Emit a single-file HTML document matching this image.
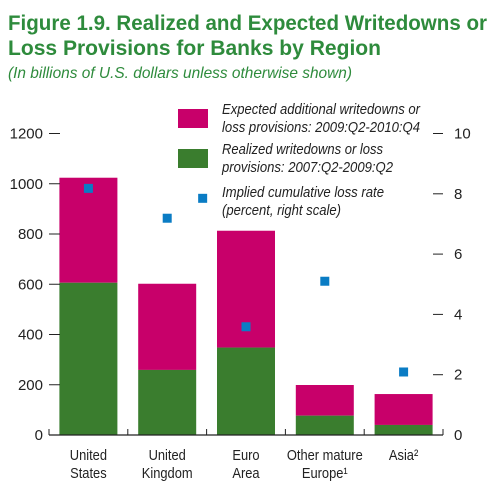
<!DOCTYPE html>
<html><head><meta charset="utf-8"><style>
body{margin:0;background:#fff}
svg text{font-family:"Liberation Sans",sans-serif}
</style></head><body>
<svg width="500" height="495" viewBox="0 0 500 495" xmlns="http://www.w3.org/2000/svg">
<text x="8" y="30" font-size="21" font-weight="bold" fill="#2e8b3c" textLength="479" lengthAdjust="spacingAndGlyphs">Figure 1.9. Realized and Expected Writedowns or</text>
<text x="8" y="55" font-size="21" font-weight="bold" fill="#2e8b3c" textLength="373" lengthAdjust="spacingAndGlyphs">Loss Provisions for Banks by Region</text>
<text x="8" y="78" font-size="16" font-style="italic" fill="#2e8b3c" textLength="344" lengthAdjust="spacingAndGlyphs">(In billions of U.S. dollars unless otherwise shown)</text>
<g id="plot"></g>
<g font-size="15" font-style="italic" fill="#222">
<rect x="178" y="109" width="30" height="19" fill="#c8006a"/>
<text x="222" y="114" textLength="198" lengthAdjust="spacingAndGlyphs">Expected additional writedowns or</text>
<text x="222" y="132" textLength="198" lengthAdjust="spacingAndGlyphs">loss provisions: 2009:Q2-2010:Q4</text>
<rect x="178" y="149" width="30" height="19" fill="#3a7d2e"/>
<text x="222" y="154" textLength="161" lengthAdjust="spacingAndGlyphs">Realized writedowns or loss</text>
<text x="222" y="172" textLength="171" lengthAdjust="spacingAndGlyphs">provisions: 2007:Q2-2009:Q2</text>
<text x="222" y="197" textLength="162" lengthAdjust="spacingAndGlyphs">Implied cumulative loss rate</text>
<text x="222" y="215" textLength="119" lengthAdjust="spacingAndGlyphs">(percent, right scale)</text>
</g>
</svg>
<script>
const categories=["United|States","United|Kingdom","Euro|Area","Other mature|Europe¹","Asia²"];
const realized=[606,259,348,77,40];
const totals=[1024,602,813,199,163];
const rateCat=[0,1,1.45,2,3,4];
const rateVals=[8.18,7.19,7.85,3.59,5.1,2.09];
const leftTicks=[0,200,400,600,800,1000,1200];
const rightTicks=[0,2,4,6,8,10];
const NS="http://www.w3.org/2000/svg";
const g=document.getElementById('plot');
const x0=49,x1=443,yb=435,yt=133.5,band=(x1-x0)/categories.length,bw=58;
const yL=v=>yb-(v/1200)*(yb-yt);
const yR=v=>yb-(v/10)*(yb-yt);
const xc=i=>x0+band*(i+0.5);
function mk(t,a){const e=document.createElementNS(NS,t);for(const k in a)e.setAttribute(k,a[k]);g.appendChild(e);return e;}
categories.forEach((c,i)=>{
 let r=mk('rect',{x:xc(i)-bw/2,y:yL(totals[i]),width:bw,height:yL(realized[i])-yL(totals[i]),fill:'#c8006a'});
 
 
 let s=mk('rect',{x:xc(i)-bw/2,y:yL(realized[i]),width:bw,height:yb-yL(realized[i]),fill:'#3a7d2e'});
 
 
 c.split('|').forEach((ln,j)=>{
  let t=mk('text',{x:xc(i),y:460+j*18,'font-size':15,'text-anchor':'middle',fill:'#222',transform:'translate('+xc(i)+',0) scale(0.86,1) translate('+(-xc(i))+',0)'});
  t.textContent=ln;
  
  
 });
 let tk=mk('line',{x1:x0+band*(i+1),x2:x0+band*(i+1),y1:yb,y2:yb-6,stroke:'#222','stroke-width':1});
 
 
});
rateVals.forEach((v,i)=>{
 let p=mk('rect',{x:xc(rateCat[i])-4.5,y:yR(v)-4.5,width:9,height:9,fill:'#0a7cc4'});
 
 
});
let ax=mk('line',{x1:x0,x2:x1,y1:yb,y2:yb,stroke:'#222','stroke-width':1.2});


[[x0,yb,x0,yb-6],[x1,yb,x1,yb-6]].forEach(a=>{let l=mk('line',{x1:a[0],y1:a[1],x2:a[2],y2:a[3],stroke:'#222'});});
leftTicks.forEach(v=>{
 let l=mk('line',{x1:x0,x2:x0+11,y1:yL(v),y2:yL(v),stroke:'#222'});
 
 
 let t=mk('text',{x:43,y:yL(v)+5,'font-size':15,'text-anchor':'end',fill:'#222'});
 t.textContent=v;
 
 
});
rightTicks.forEach(v=>{
 let l=mk('line',{x1:x1-10,x2:x1,y1:yR(v),y2:yR(v),stroke:'#222'});
 
 
 let t=mk('text',{x:454,y:yR(v)+5,'font-size':15,fill:'#222'});
 t.textContent=v;
 
 
});
</script>
</body></html>
